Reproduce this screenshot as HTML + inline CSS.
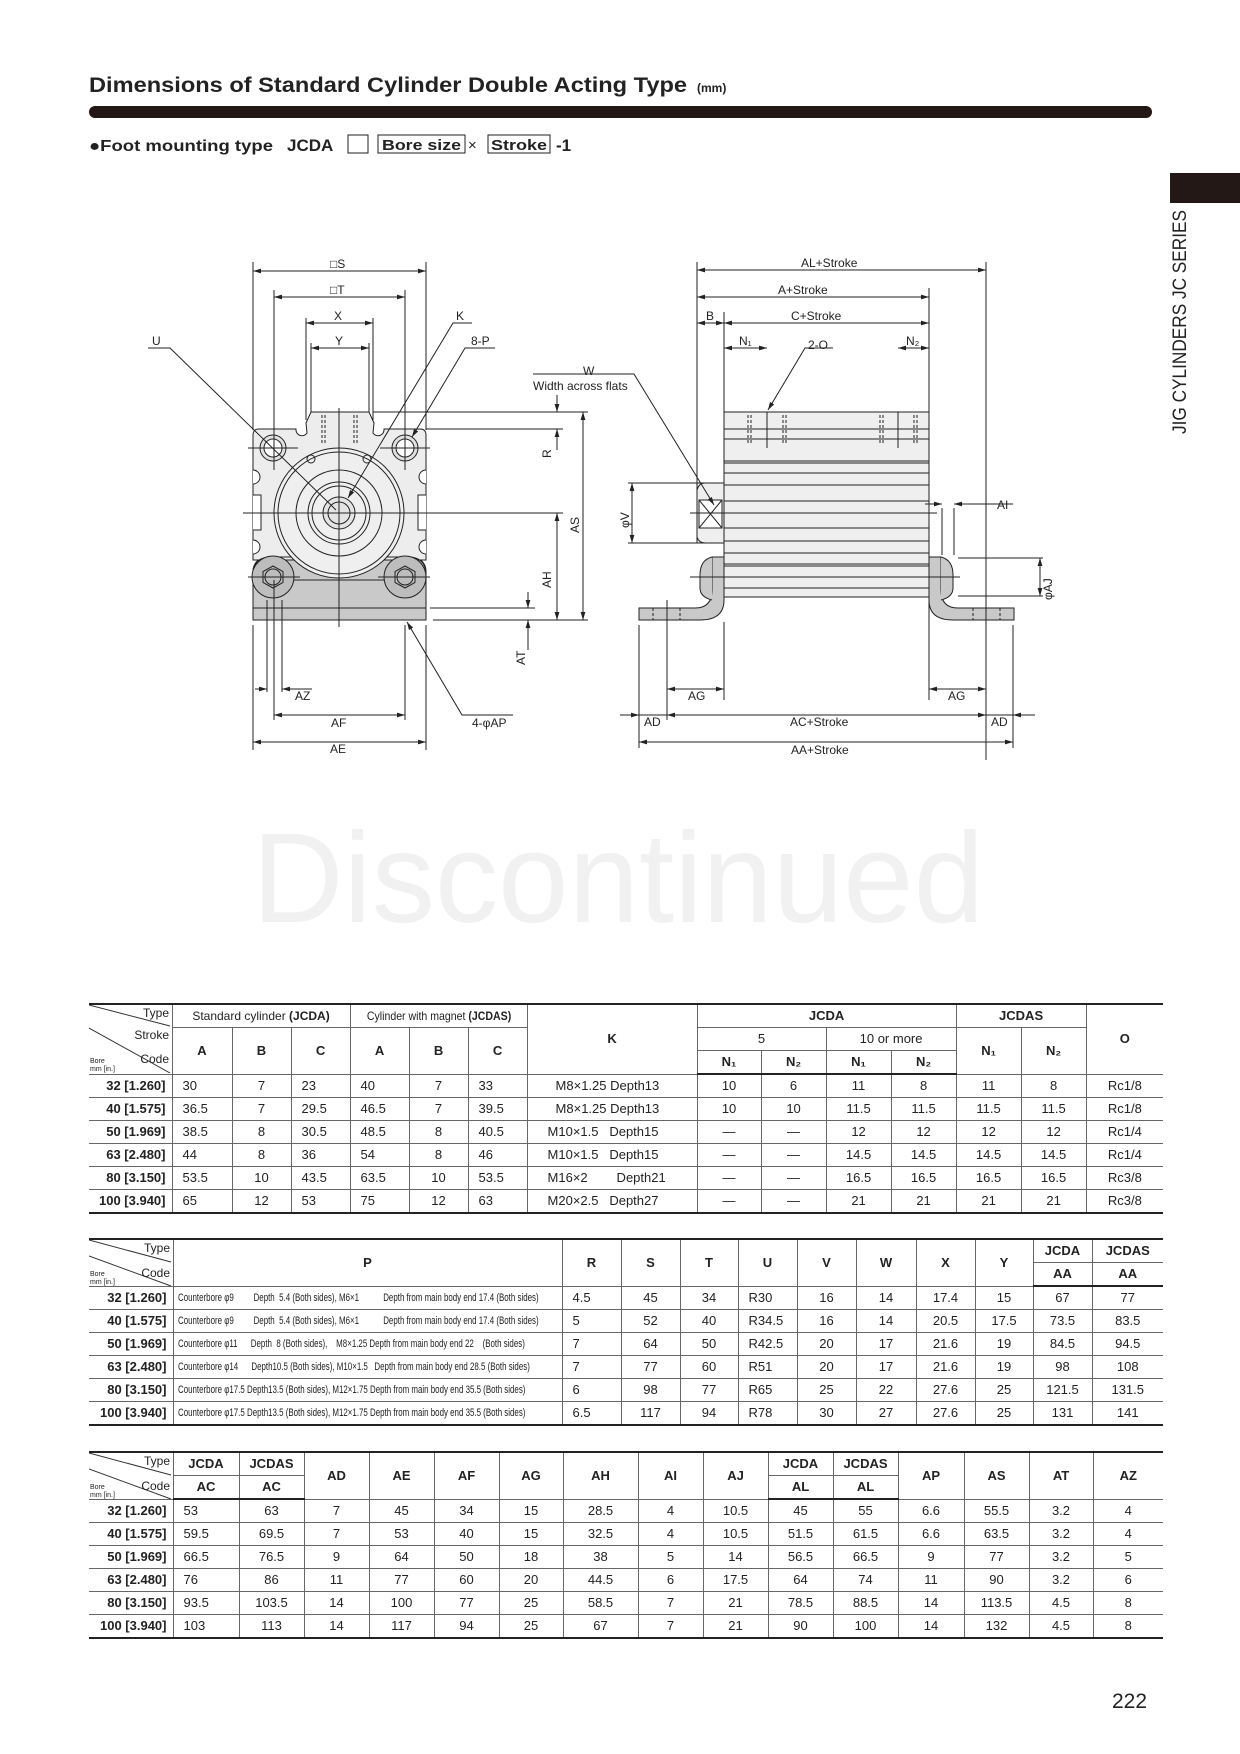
<!DOCTYPE html>
<html><head><meta charset="utf-8"><style>
body{margin:0;background:#fff;}
#pg{position:relative;width:1240px;height:1754px;overflow:hidden;background:#fff;font-family:"Liberation Sans",sans-serif;color:#222;}
svg text{font-family:"Liberation Sans",sans-serif;fill:#222;}
table{position:absolute;border-collapse:collapse;table-layout:fixed;font-size:13px;}
td{border:1px solid #666;padding:0;text-align:center;white-space:nowrap;overflow:hidden;height:22px;line-height:20px;}
td.b{font-weight:bold;text-align:right;padding-right:6px;}
td.h{font-weight:bold;}
tr.hb td{border-bottom:2px solid #222;}
table{border-top:2.5px solid #222;border-bottom:2.5px solid #222;}
td.d{position:relative;border-left:none;}
td:first-child{border-left:none;}
td:last-child{border-right:none;}
td.l{text-align:left;padding-left:10px;}
td.p{text-align:left;padding-left:4px;font-size:11px;}
td.p span{display:inline-block;transform:scaleX(.72);transform-origin:left;}
.dg{position:absolute;left:0;top:0;}
</style></head><body><div id="pg">
<svg width="1240" height="1754" style="position:absolute;left:0;top:0" xmlns="http://www.w3.org/2000/svg">
<defs>
<marker id="a" viewBox="0 0 10 6" refX="10" refY="3" markerWidth="8" markerHeight="5" orient="auto-start-reverse" markerUnits="userSpaceOnUse"><path d="M0,0 L10,3 L0,6z" fill="#222"/></marker>
</defs>
<text x="89" y="92" font-size="21" font-weight="bold" textLength="598" lengthAdjust="spacingAndGlyphs">Dimensions of Standard Cylinder Double Acting Type</text>
<text x="697" y="92" font-size="12" font-weight="bold">(mm)</text>
<rect x="89" y="106" width="1063" height="12" rx="6" fill="#231815"/>
<text x="89" y="151" font-size="16" font-weight="bold" textLength="184" lengthAdjust="spacingAndGlyphs">●Foot mounting type</text>
<text x="287" y="151" font-size="17" font-weight="bold">JCDA</text>
<rect x="348" y="135" width="20" height="18" fill="none" stroke="#222"/>
<rect x="378" y="135" width="87" height="18" fill="none" stroke="#222"/>
<text x="382" y="150" font-size="15" font-weight="bold" textLength="79" lengthAdjust="spacingAndGlyphs">Bore size</text>
<text x="468" y="150" font-size="15">×</text>
<rect x="488" y="135" width="62" height="18" fill="none" stroke="#222"/>
<text x="491" y="150" font-size="15" font-weight="bold" textLength="56" lengthAdjust="spacingAndGlyphs">Stroke</text>
<text x="556" y="151" font-size="17" font-weight="bold">-1</text>
<rect x="1170" y="173" width="70" height="30" fill="#231815"/>
<text transform="translate(1186,434) rotate(-90)" font-size="19" textLength="224" lengthAdjust="spacingAndGlyphs">JIG CYLINDERS JC SERIES</text>
<text x="252" y="922" font-size="128" fill="#f1f1f1" style="fill:#f1f1f1" textLength="732" lengthAdjust="spacingAndGlyphs">Discontinued</text>
<text x="1112" y="1708" font-size="21">222</text>

<g stroke="#222" stroke-width="1" fill="none">
<rect x="253" y="557" width="173" height="63" rx="14" fill="#c9c9c9"/>
<rect x="253" y="580" width="173" height="40" fill="#c9c9c9"/>
<line x1="253" y1="608" x2="426" y2="608"/>
<path d="M259,429 L296,429 A6,6 0 0 0 307,433 L306,423 L311,412 L369,412 L374,423 L373,433 A6,6 0 0 0 384,429 L420,429 Q426,429 426,435 L426,560 L253,560 L253,435 Q253,429 259,429Z" fill="#ededed"/>
<path d="M253,470 A7,7 0 0 1 253,484 M253,495 L261,495 L261,530 L253,530 M253,540 A7,7 0 0 1 253,554" fill="#fff"/>
<path d="M426,470 A7,7 0 0 0 426,484 M426,495 L418,495 L418,530 L426,530 M426,540 A7,7 0 0 0 426,554" fill="#fff"/>
<path d="M253,575 Q253,557 271,557 L300,557 M378,557 L408,557 Q426,557 426,575" />
<circle cx="339" cy="513" r="65" fill="#efefef"/>
<circle cx="339" cy="513" r="61"/>
<circle cx="339" cy="513" r="43"/>
<circle cx="339" cy="513" r="31"/>
<circle cx="339" cy="513" r="27"/>
<circle cx="339" cy="513" r="16" fill="#e4e4e4"/>
<circle cx="339" cy="513" r="11"/>
<circle cx="311" cy="459" r="4"/><circle cx="367" cy="459" r="4"/>
<circle cx="273" cy="448" r="13" fill="#e0e0e0"/><circle cx="273" cy="448" r="9" fill="#fff"/>
<circle cx="405" cy="448" r="13" fill="#e0e0e0"/><circle cx="405" cy="448" r="9" fill="#fff"/>
<circle cx="273" cy="577" r="21" fill="#bdbdbd"/><path d="M273,566 L283,571.5 L283,582.5 L273,588 L263,582.5 L263,571.5Z"/><circle cx="273" cy="577" r="8"/>
<circle cx="405" cy="577" r="21" fill="#bdbdbd"/><path d="M405,566 L415,571.5 L415,582.5 L405,588 L395,582.5 L395,571.5Z"/><circle cx="405" cy="577" r="8"/>
<path d="M322,415 V445 M325,415 V445 M354,415 V445 M357,415 V445" stroke-dasharray="3,2"/>
<line x1="339" y1="408" x2="339" y2="627"/>
<line x1="243" y1="513" x2="433" y2="513"/>
<line x1="248" y1="448" x2="298" y2="448"/><line x1="380" y1="448" x2="430" y2="448"/>
<line x1="248" y1="577" x2="300" y2="577"/><line x1="378" y1="577" x2="430" y2="577"/>
<path d="M253,262 V430 M426,262 V430 M274,290 V470 M405,290 V470 M306,318 V420 M373,318 V420 M311,343 V412 M369,343 V412"/>
<line x1="253" y1="271" x2="426" y2="271" marker-start="url(#a)" marker-end="url(#a)"/>
<line x1="274" y1="297" x2="405" y2="297" marker-start="url(#a)" marker-end="url(#a)"/>
<line x1="306" y1="323" x2="373" y2="323" marker-start="url(#a)" marker-end="url(#a)"/>
<line x1="311" y1="348" x2="369" y2="348" marker-start="url(#a)" marker-end="url(#a)"/>
<path d="M373,412 H588 M426,429 H563 M433,513 H563 M433,620 H588 M430,608 H535"/>
<line x1="557" y1="395" x2="557" y2="412" marker-end="url(#a)"/>
<line x1="557" y1="450" x2="557" y2="429" marker-end="url(#a)"/>
<line x1="583" y1="412" x2="583" y2="620" marker-start="url(#a)" marker-end="url(#a)"/>
<line x1="557" y1="513" x2="557" y2="620" marker-start="url(#a)" marker-end="url(#a)"/>
<line x1="528" y1="592" x2="528" y2="608" marker-end="url(#a)"/>
<line x1="528" y1="650" x2="528" y2="620" marker-end="url(#a)"/>
<path d="M253,625 V750 M426,625 V750 M274,580 V720 M405,625 V720 M267,600 V692 M282,600 V692"/>
<line x1="255" y1="689" x2="267" y2="689" marker-end="url(#a)"/>
<line x1="312" y1="689" x2="282" y2="689" marker-end="url(#a)"/>
<line x1="274" y1="715" x2="405" y2="715" marker-start="url(#a)" marker-end="url(#a)"/>
<line x1="253" y1="742" x2="426" y2="742" marker-start="url(#a)" marker-end="url(#a)"/>
<path d="M148,348 H170 L336,510"/>
<path d="M472,323 H453 L348,498" marker-end="url(#a)"/>
<path d="M495,348 H465 L412,437" marker-end="url(#a)"/>
<path d="M513,715 H462 L407,622" marker-end="url(#a)"/>

<rect x="724" y="412" width="205" height="185" fill="#efefef"/>
<path d="M724,429 H929 M724,439 H929 M724,461 H929 M724,463 H929 M724,473 H929 M724,485 H929 M724,501 H929 M724,528 H929 M724,541 H929 M724,553 H929 M724,564 H929 M724,566 H929 M724,577 H929 M724,588 H929"/>
<path d="M748,415 V445 M751,415 V445 M783,415 V445 M786,415 V445 M880,415 V445 M883,415 V445 M914,415 V445 M917,415 V445" stroke-dasharray="3,2"/>
<path d="M767,412 V448 M898,412 V448"/>
<rect x="697" y="483" width="27" height="60" fill="#efefef"/>
<rect x="699" y="500" width="23" height="28" fill="#fff"/>
<path d="M699,500 L722,528 M722,500 L699,528 M697,490 Q699,483 705,483 M697,537 Q699,543 705,543"/>
<line x1="690" y1="513" x2="937" y2="513"/>
<path d="M639,608 L695,608 Q712,608 712,590 L712,557 L724,557 L724,600 Q724,620 700,620 L639,620Z" fill="#c9c9c9"/>
<path d="M712,557 Q700,560 700,575 L700,588 Q700,597 712,600" fill="#c9c9c9"/>
<path d="M1014,608 L958,608 Q941,608 941,590 L941,557 L929,557 L929,600 Q929,620 953,620 L1014,620Z" fill="#c9c9c9"/>
<path d="M941,557 Q953,560 953,575 L953,588 Q953,597 941,600" fill="#c9c9c9"/>
<path d="M653,608 V620 M680,608 V620 M973,608 V620 M1000,608 V620" stroke-dasharray="3,2"/>
<line x1="690" y1="577" x2="960" y2="577"/>
<path d="M697,262 V483 M986,262 V760 M929,288 V412 M929,600 V700 M724,312 V412 M724,622 V700 M639,625 V748 M667,600 V720 M1013,625 V748"/>
<line x1="697" y1="270" x2="986" y2="270" marker-start="url(#a)" marker-end="url(#a)"/>
<line x1="697" y1="297" x2="929" y2="297" marker-start="url(#a)" marker-end="url(#a)"/>
<line x1="697" y1="323" x2="724" y2="323" marker-start="url(#a)" marker-end="url(#a)"/>
<line x1="724" y1="323" x2="929" y2="323" marker-start="url(#a)" marker-end="url(#a)"/>
<line x1="724" y1="348" x2="767" y2="348" marker-start="url(#a)" marker-end="url(#a)"/>
<line x1="898" y1="348" x2="929" y2="348" marker-start="url(#a)" marker-end="url(#a)"/>
<path d="M833,348 H805 L768,410" marker-end="url(#a)"/>
<path d="M533,374 H634 L714,505" marker-end="url(#a)"/>
<path d="M628,483 H697 M628,543 H697"/>
<line x1="632" y1="483" x2="632" y2="543" marker-start="url(#a)" marker-end="url(#a)"/>
<path d="M942,508 V555 M954,508 V555"/>
<line x1="925" y1="504" x2="942" y2="504" marker-end="url(#a)"/>
<line x1="1013" y1="504" x2="954" y2="504" marker-end="url(#a)"/>
<path d="M958,558 H1043 M958,596 H1043"/>
<line x1="1040" y1="558" x2="1040" y2="596" marker-start="url(#a)" marker-end="url(#a)"/>
<line x1="667" y1="689" x2="724" y2="689" marker-start="url(#a)" marker-end="url(#a)"/>
<line x1="929" y1="689" x2="986" y2="689" marker-start="url(#a)" marker-end="url(#a)"/>
<line x1="620" y1="715" x2="639" y2="715" marker-end="url(#a)"/>
<line x1="639" y1="715" x2="667" y2="715"/>
<line x1="667" y1="715" x2="986" y2="715" marker-start="url(#a)" marker-end="url(#a)"/>
<line x1="986" y1="715" x2="1013" y2="715"/>
<line x1="1035" y1="715" x2="1013" y2="715" marker-end="url(#a)"/>
<line x1="639" y1="742" x2="1013" y2="742" marker-start="url(#a)" marker-end="url(#a)"/>
</g>
<g font-size="12">
<text x="330" y="268">□S</text>
<text x="330" y="294">□T</text>
<text x="334" y="320">X</text>
<text x="335" y="345">Y</text>
<text x="152" y="345">U</text>
<text x="456" y="320">K</text>
<text x="471" y="345">8-P</text>
<text x="295" y="700">AZ</text>
<text x="331" y="727">AF</text>
<text x="330" y="753">AE</text>
<text x="472" y="727">4-φAP</text>
<text transform="translate(551,458) rotate(-90)">R</text>
<text transform="translate(579,533) rotate(-90)">AS</text>
<text transform="translate(551,588) rotate(-90)">AH</text>
<text transform="translate(525,665) rotate(-90)">AT</text>
<text x="801" y="267">AL+Stroke</text>
<text x="778" y="294">A+Stroke</text>
<text x="791" y="320">C+Stroke</text>
<text x="706" y="320">B</text>
<text x="739" y="345">N₁</text>
<text x="808" y="349">2-O</text>
<text x="906" y="345">N₂</text>
<text x="583" y="375">W</text>
<text x="533" y="390">Width across flats</text>
<text transform="translate(629,528) rotate(-90)">φV</text>
<text x="997" y="509">AI</text>
<text transform="translate(1052,600) rotate(-90)">φAJ</text>
<text x="688" y="700">AG</text>
<text x="948" y="700">AG</text>
<text x="644" y="726">AD</text>
<text x="790" y="726">AC+Stroke</text>
<text x="991" y="726">AD</text>
<text x="791" y="754">AA+Stroke</text>
</g>
</svg>

<table style="left:89px;top:1003px;width:1074px">
<colgroup><col style="width:83px"><col style="width:60px"><col style="width:59px"><col style="width:59px"><col style="width:59px"><col style="width:59px"><col style="width:59px"><col style="width:170px"><col style="width:64px"><col style="width:65px"><col style="width:65px"><col style="width:65px"><col style="width:65px"><col style="width:65px"><col style="width:77px"></colgroup>
<tr><td rowspan="3" class="d" style="height:68px"><svg class="dg" width="83" height="68"><line x1="0" y1="0" x2="81" y2="21" stroke="#333"/><line x1="0" y1="23" x2="81" y2="68" stroke="#333"/><text x="80" y="12" font-size="12" text-anchor="end">Type</text><text x="80" y="34" font-size="12" text-anchor="end">Stroke</text><text x="80" y="58" font-size="12" text-anchor="end">Code</text><text x="1" y="58" font-size="7">Bore</text><text x="1" y="66" font-size="7">mm [in.]</text></svg></td>
<td colspan="3" style="font-size:12px">Standard cylinder <b>(JCDA)</b></td><td colspan="3" style="font-size:12px"><span style="display:inline-block;transform:scaleX(.88)">Cylinder with magnet <b>(JCDAS)</b></span></td><td rowspan="3" class="h">K</td><td colspan="4" class="h">JCDA</td><td colspan="2" class="h">JCDAS</td><td rowspan="3" class="h">O</td></tr>
<tr><td rowspan="2" class="h">A</td><td rowspan="2" class="h">B</td><td rowspan="2" class="h">C</td><td rowspan="2" class="h">A</td><td rowspan="2" class="h">B</td><td rowspan="2" class="h">C</td><td colspan="2">5</td><td colspan="2">10 or more</td><td rowspan="2" class="h">N₁</td><td rowspan="2" class="h">N₂</td></tr>
<tr class="hb"><td class="h">N₁</td><td class="h">N₂</td><td class="h">N₁</td><td class="h">N₂</td></tr>
<tr><td class="b">32 [1.260]</td><td class="l">30</td><td>7</td><td class="l">23</td><td class="l">40</td><td>7</td><td class="l">33</td><td style="text-align:left;padding-left:28px">M8×1.25 Depth13</td><td>10</td><td>6</td><td>11</td><td>8</td><td>11</td><td>8</td><td>Rc1/8</td></tr>
<tr><td class="b">40 [1.575]</td><td class="l">36.5</td><td>7</td><td class="l">29.5</td><td class="l">46.5</td><td>7</td><td class="l">39.5</td><td style="text-align:left;padding-left:28px">M8×1.25 Depth13</td><td>10</td><td>10</td><td>11.5</td><td>11.5</td><td>11.5</td><td>11.5</td><td>Rc1/8</td></tr>
<tr><td class="b">50 [1.969]</td><td class="l">38.5</td><td>8</td><td class="l">30.5</td><td class="l">48.5</td><td>8</td><td class="l">40.5</td><td style="text-align:left;padding-left:20px">M10×1.5&nbsp;&nbsp; Depth15</td><td>—</td><td>—</td><td>12</td><td>12</td><td>12</td><td>12</td><td>Rc1/4</td></tr>
<tr><td class="b">63 [2.480]</td><td class="l">44</td><td>8</td><td class="l">36</td><td class="l">54</td><td>8</td><td class="l">46</td><td style="text-align:left;padding-left:20px">M10×1.5&nbsp;&nbsp; Depth15</td><td>—</td><td>—</td><td>14.5</td><td>14.5</td><td>14.5</td><td>14.5</td><td>Rc1/4</td></tr>
<tr><td class="b">80 [3.150]</td><td class="l">53.5</td><td>10</td><td class="l">43.5</td><td class="l">63.5</td><td>10</td><td class="l">53.5</td><td style="text-align:left;padding-left:20px">M16×2&nbsp;&nbsp;&nbsp;&nbsp;&nbsp;&nbsp;&nbsp; Depth21</td><td>—</td><td>—</td><td>16.5</td><td>16.5</td><td>16.5</td><td>16.5</td><td>Rc3/8</td></tr>
<tr><td class="b">100 [3.940]</td><td class="l">65</td><td>12</td><td class="l">53</td><td class="l">75</td><td>12</td><td class="l">63</td><td style="text-align:left;padding-left:20px">M20×2.5&nbsp;&nbsp; Depth27</td><td>—</td><td>—</td><td>21</td><td>21</td><td>21</td><td>21</td><td>Rc3/8</td></tr>
</table>

<table style="left:89px;top:1238px;width:1074px">
<colgroup><col style="width:84px"><col style="width:389px"><col style="width:59px"><col style="width:59px"><col style="width:58px"><col style="width:59px"><col style="width:59px"><col style="width:60px"><col style="width:59px"><col style="width:58px"><col style="width:59px"><col style="width:71px"></colgroup>
<tr><td rowspan="2" class="d" style="height:45px"><svg class="dg" width="84" height="46"><line x1="0" y1="0" x2="82" y2="22" stroke="#333"/><line x1="0" y1="16" x2="82" y2="46" stroke="#333"/><text x="81" y="12" font-size="12" text-anchor="end">Type</text><text x="81" y="37" font-size="12" text-anchor="end">Code</text><text x="1" y="36" font-size="7">Bore</text><text x="1" y="44" font-size="7">mm [in.]</text></svg></td>
<td rowspan="2" class="h">P</td><td rowspan="2" class="h">R</td><td rowspan="2" class="h">S</td><td rowspan="2" class="h">T</td><td rowspan="2" class="h">U</td><td rowspan="2" class="h">V</td><td rowspan="2" class="h">W</td><td rowspan="2" class="h">X</td><td rowspan="2" class="h">Y</td><td class="h">JCDA</td><td class="h">JCDAS</td></tr>
<tr class="hb"><td class="h">AA</td><td class="h">AA</td></tr>
<tr><td class="b">32 [1.260]</td><td class="p"><span>Counterbore φ9&nbsp;&nbsp;&nbsp;&nbsp;&nbsp;&nbsp;&nbsp;&nbsp; Depth&nbsp; 5.4 (Both sides), M6×1&nbsp;&nbsp;&nbsp;&nbsp;&nbsp;&nbsp;&nbsp;&nbsp;&nbsp;&nbsp; Depth from main body end 17.4 (Both sides)</span></td><td class="l">4.5</td><td>45</td><td>34</td><td class="l">R30</td><td>16</td><td>14</td><td>17.4</td><td>15</td><td>67</td><td>77</td></tr>
<tr><td class="b">40 [1.575]</td><td class="p"><span>Counterbore φ9&nbsp;&nbsp;&nbsp;&nbsp;&nbsp;&nbsp;&nbsp;&nbsp; Depth&nbsp; 5.4 (Both sides), M6×1&nbsp;&nbsp;&nbsp;&nbsp;&nbsp;&nbsp;&nbsp;&nbsp;&nbsp;&nbsp; Depth from main body end 17.4 (Both sides)</span></td><td class="l">5</td><td>52</td><td>40</td><td class="l">R34.5</td><td>16</td><td>14</td><td>20.5</td><td>17.5</td><td>73.5</td><td>83.5</td></tr>
<tr><td class="b">50 [1.969]</td><td class="p"><span>Counterbore φ11&nbsp;&nbsp;&nbsp;&nbsp;&nbsp; Depth&nbsp; 8 (Both sides),&nbsp;&nbsp;&nbsp; M8×1.25 Depth from main body end 22&nbsp;&nbsp;&nbsp; (Both sides)</span></td><td class="l">7</td><td>64</td><td>50</td><td class="l">R42.5</td><td>20</td><td>17</td><td>21.6</td><td>19</td><td>84.5</td><td>94.5</td></tr>
<tr><td class="b">63 [2.480]</td><td class="p"><span>Counterbore φ14&nbsp;&nbsp;&nbsp;&nbsp;&nbsp; Depth10.5 (Both sides), M10×1.5&nbsp;&nbsp; Depth from main body end 28.5 (Both sides)</span></td><td class="l">7</td><td>77</td><td>60</td><td class="l">R51</td><td>20</td><td>17</td><td>21.6</td><td>19</td><td>98</td><td>108</td></tr>
<tr><td class="b">80 [3.150]</td><td class="p"><span>Counterbore φ17.5 Depth13.5 (Both sides), M12×1.75 Depth from main body end 35.5 (Both sides)</span></td><td class="l">6</td><td>98</td><td>77</td><td class="l">R65</td><td>25</td><td>22</td><td>27.6</td><td>25</td><td>121.5</td><td>131.5</td></tr>
<tr><td class="b">100 [3.940]</td><td class="p"><span>Counterbore φ17.5 Depth13.5 (Both sides), M12×1.75 Depth from main body end 35.5 (Both sides)</span></td><td class="l">6.5</td><td>117</td><td>94</td><td class="l">R78</td><td>30</td><td>27</td><td>27.6</td><td>25</td><td>131</td><td>141</td></tr>
</table>

<table style="left:89px;top:1451px;width:1074px">
<colgroup><col style="width:84px"><col style="width:66px"><col style="width:65px"><col style="width:65px"><col style="width:65px"><col style="width:65px"><col style="width:64px"><col style="width:75px"><col style="width:65px"><col style="width:65px"><col style="width:65px"><col style="width:65px"><col style="width:66px"><col style="width:65px"><col style="width:64px"><col style="width:70px"></colgroup>
<tr><td rowspan="2" class="d" style="height:45px"><svg class="dg" width="84" height="46"><line x1="0" y1="0" x2="82" y2="22" stroke="#333"/><line x1="0" y1="16" x2="82" y2="46" stroke="#333"/><text x="81" y="12" font-size="12" text-anchor="end">Type</text><text x="81" y="37" font-size="12" text-anchor="end">Code</text><text x="1" y="36" font-size="7">Bore</text><text x="1" y="44" font-size="7">mm [in.]</text></svg></td>
<td class="h">JCDA</td><td class="h">JCDAS</td><td rowspan="2" class="h">AD</td><td rowspan="2" class="h">AE</td><td rowspan="2" class="h">AF</td><td rowspan="2" class="h">AG</td><td rowspan="2" class="h">AH</td><td rowspan="2" class="h">AI</td><td rowspan="2" class="h">AJ</td><td class="h">JCDA</td><td class="h">JCDAS</td><td rowspan="2" class="h">AP</td><td rowspan="2" class="h">AS</td><td rowspan="2" class="h">AT</td><td rowspan="2" class="h">AZ</td></tr>
<tr class="hb"><td class="h">AC</td><td class="h">AC</td><td class="h">AL</td><td class="h">AL</td></tr>
<tr><td class="b">32 [1.260]</td><td class="l">53</td><td>63</td><td>7</td><td>45</td><td>34</td><td>15</td><td>28.5</td><td>4</td><td>10.5</td><td>45</td><td>55</td><td>6.6</td><td>55.5</td><td>3.2</td><td>4</td></tr>
<tr><td class="b">40 [1.575]</td><td class="l">59.5</td><td>69.5</td><td>7</td><td>53</td><td>40</td><td>15</td><td>32.5</td><td>4</td><td>10.5</td><td>51.5</td><td>61.5</td><td>6.6</td><td>63.5</td><td>3.2</td><td>4</td></tr>
<tr><td class="b">50 [1.969]</td><td class="l">66.5</td><td>76.5</td><td>9</td><td>64</td><td>50</td><td>18</td><td>38</td><td>5</td><td>14</td><td>56.5</td><td>66.5</td><td>9</td><td>77</td><td>3.2</td><td>5</td></tr>
<tr><td class="b">63 [2.480]</td><td class="l">76</td><td>86</td><td>11</td><td>77</td><td>60</td><td>20</td><td>44.5</td><td>6</td><td>17.5</td><td>64</td><td>74</td><td>11</td><td>90</td><td>3.2</td><td>6</td></tr>
<tr><td class="b">80 [3.150]</td><td class="l">93.5</td><td>103.5</td><td>14</td><td>100</td><td>77</td><td>25</td><td>58.5</td><td>7</td><td>21</td><td>78.5</td><td>88.5</td><td>14</td><td>113.5</td><td>4.5</td><td>8</td></tr>
<tr><td class="b">100 [3.940]</td><td class="l">103</td><td>113</td><td>14</td><td>117</td><td>94</td><td>25</td><td>67</td><td>7</td><td>21</td><td>90</td><td>100</td><td>14</td><td>132</td><td>4.5</td><td>8</td></tr>
</table>
</div></body></html>
